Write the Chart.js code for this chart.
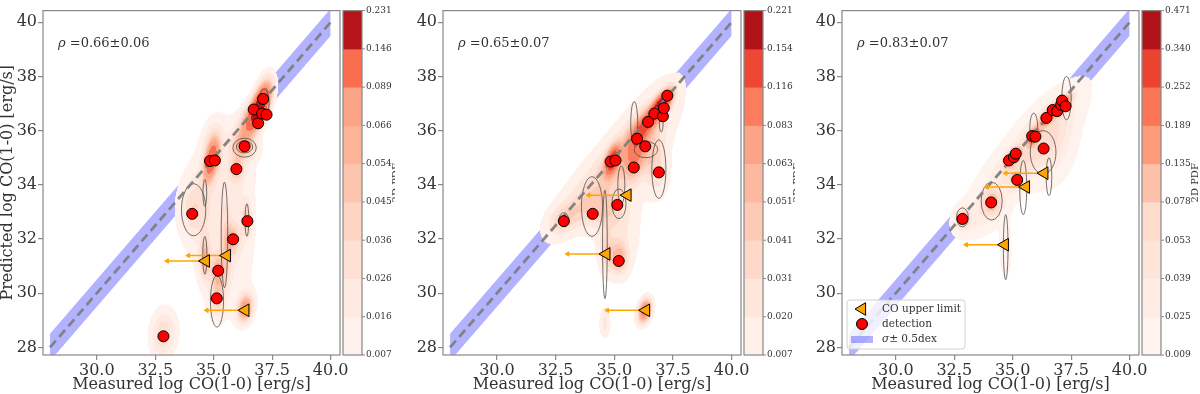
<!DOCTYPE html>
<html>
<head>
<meta charset="utf-8">
<script src="https://cdn.jsdelivr.net/npm/chart.js@4.4.1/dist/chart.umd.min.js"></script>
<style>
  body { margin: 0; background: #fff; width: 1200px; height: 394px; overflow: hidden; position: relative; }
  canvas { position: absolute; top: 0; }
</style>
</head>
<body>
<canvas id="p1" width="395" height="394" style="left:0px"></canvas>
<canvas id="p2" width="395" height="394" style="left:400px"></canvas>
<canvas id="p3" width="400" height="394" style="left:800px"></canvas>
<script>
/* ---- data ---- */
const xTicks = [30, 32.5, 35, 37.5, 40];
const yTicks = [28, 30, 32, 34, 36, 38, 40];
const oneToOne = [28, 40];          // y = x line end points
const sigmaDex = 0.5;               // band half width
const arrowLen = 1.65;              // upper-limit arrow length

// measured CO of the detections (same for every panel)
const measuredDet = [32.85, 34.08, 34.84, 35.05, 35.13, 35.19, 35.83, 35.97, 36.32, 36.44, 36.71, 36.90, 37.07, 37.11, 37.26];
const predictedDet1 = [28.41, 32.93, 34.88, 34.90, 29.81, 30.83, 31.99, 34.58, 35.42, 32.66, 36.78, 36.27, 36.63, 37.17, 36.59];
const predictedDet2 = [32.66, 32.93, 34.86, 34.90, 33.26, 31.19, 34.64, 35.70, 35.42, 36.32, 36.63, 34.46, 36.53, 36.83, 37.29];
const predictedDet3 = [32.74, 33.35, 34.90, 35.02, 35.15, 34.18, 35.80, 35.78, 35.34, 36.47, 36.76, 36.72, 36.95, 37.11, 36.90];

// upper limits
const measuredLim = [35.56, 34.66, 36.35];
const predictedLim1 = [31.39, 31.19, 29.37];
const predictedLim2 = [33.62, 31.45, 29.37];
const predictedLim3 = [33.92, 31.79, 34.43];

const rhoText = ['0.66\u00b10.06', '0.65\u00b10.07', '0.83\u00b10.07'];

// contour levels of the 2D PDF (colorbar ticks)
const levels1 = [0.007, 0.016, 0.026, 0.036, 0.045, 0.054, 0.066, 0.089, 0.146, 0.231];
const levels2 = [0.007, 0.020, 0.031, 0.041, 0.051, 0.063, 0.083, 0.116, 0.154, 0.221];
const levels3 = [0.009, 0.025, 0.039, 0.053, 0.078, 0.135, 0.189, 0.252, 0.340, 0.471];

// KDE blobs: [cx, cy, sx, sy, corr, peak]
const kde1 = [
  [36.95, 36.85, 0.30, 0.50, 0.6, 0.20],
  [36.40, 36.20, 0.30, 0.45, 0.5, 0.05],
  [37.20, 37.60, 0.25, 0.45, 0.3, 0.02],
  [34.90, 34.90, 0.22, 0.50, 0.5, 0.11],
  [34.90, 35.60, 0.25, 0.50, 0.3, 0.02],
  [36.30, 35.40, 0.35, 0.30, 0.0, 0.05],
  [36.00, 34.60, 0.20, 0.30, 0.0, 0.04],
  [36.35, 29.45, 0.22, 0.34, 0.2, 0.08],
  [32.85, 28.50, 0.38, 0.60, 0.1, 0.035],
  [34.62, 31.30, 0.15, 0.50, 0.0, 0.05],
  [35.18, 30.80, 0.20, 0.40, 0.0, 0.05],
  [35.15, 29.80, 0.20, 0.40, 0.0, 0.04],
  [35.55, 31.60, 0.15, 0.80, 0.0, 0.03],
  [36.42, 32.70, 0.15, 0.40, 0.0, 0.04],
  [35.85, 32.00, 0.20, 0.35, 0.0, 0.04],
  [34.10, 33.10, 0.40, 0.70, 0.0, 0.025],
  [35.50, 31.50, 0.90, 1.80, 0.0, 0.016],
  [35.30, 34.30, 1.00, 1.60, 0.3, 0.018]
];
const kde2 = [
  [37.00, 36.95, 0.30, 0.35, 0.7, 0.19],
  [36.30, 36.20, 0.35, 0.40, 0.7, 0.09],
  [34.92, 34.90, 0.20, 0.35, 0.5, 0.13],
  [34.60, 34.50, 1.40, 1.40, 0.85, 0.03],
  [36.20, 35.60, 1.00, 1.40, 0.7, 0.03],
  [36.30, 29.35, 0.20, 0.30, 0.3, 0.10],
  [34.60, 28.90, 0.15, 0.35, 0.0, 0.025],
  [35.20, 31.30, 0.25, 0.40, 0.0, 0.05],
  [34.65, 31.50, 0.20, 0.50, 0.0, 0.03],
  [35.20, 32.30, 0.60, 1.10, 0.0, 0.02],
  [32.80, 32.70, 0.45, 0.40, 0.3, 0.03],
  [34.30, 33.10, 0.70, 0.50, 0.0, 0.03],
  [36.80, 34.60, 0.35, 0.70, 0.0, 0.03],
  [35.90, 35.20, 0.30, 0.60, 0.3, 0.06]
];
const kde3 = [
  [36.95, 36.85, 0.30, 0.25, 0.8, 0.40],
  [36.45, 36.45, 0.15, 0.15, 0.5, 0.30],
  [35.90, 35.80, 0.15, 0.20, 0.5, 0.30],
  [35.00, 35.00, 0.20, 0.20, 0.6, 0.28],
  [35.15, 34.20, 0.15, 0.20, 0.0, 0.10],
  [34.10, 33.35, 0.25, 0.30, 0.0, 0.08],
  [32.85, 32.75, 0.20, 0.25, 0.0, 0.08],
  [35.60, 35.20, 1.50, 1.50, 0.85, 0.05],
  [36.70, 35.40, 0.70, 1.00, 0.2, 0.03],
  [33.60, 32.80, 0.70, 0.50, 0.3, 0.02],
  [34.70, 31.60, 0.18, 0.70, 0.0, 0.025]
];

// error ellipses: [cx, cy, rx, ry]
const ell1 = [
  [34.14, 33.08, 0.52, 0.96], [35.46, 32.15, 0.14, 1.95], [36.42, 32.70, 0.08, 0.60],
  [34.62, 31.40, 0.09, 0.70], [35.14, 29.70, 0.28, 0.95], [36.32, 35.37, 0.50, 0.35],
  [36.32, 35.40, 0.35, 0.22], [37.15, 37.00, 0.22, 0.55], [34.62, 33.70, 0.08, 0.50]
];
const ell2 = [
  [35.85, 36.27, 0.15, 0.80], [37.00, 36.25, 0.08, 0.30], [36.35, 35.30, 0.50, 0.30],
  [36.90, 34.58, 0.30, 1.08], [34.60, 31.80, 0.10, 2.00], [34.05, 33.20, 0.45, 1.10],
  [35.20, 33.30, 0.30, 0.55], [35.30, 34.00, 0.15, 0.70], [32.85, 32.72, 0.20, 0.25]
];
const ell3 = [
  [37.30, 37.20, 0.20, 0.80], [35.90, 36.10, 0.17, 0.55], [36.30, 35.20, 0.55, 0.80],
  [35.45, 33.90, 0.15, 1.00], [36.55, 34.30, 0.12, 0.70], [34.10, 33.40, 0.45, 0.70],
  [32.85, 32.80, 0.25, 0.35], [34.70, 31.70, 0.10, 1.20]
];

// filled-contour colours (lowest band first)
const colors1 = ['#fff2ec', '#ffeae1', '#fee1d4', '#fed4c2', '#fdc5ae', '#fcb499', '#fca486', '#f96e4f', '#b5141b'];
const colors2 = ['#fff1ea', '#fee6da', '#fed9c9', '#fdcab5', '#fcb9a0', '#fca487', '#fb7d5d', '#ee4733', '#b01218'];
const colors3 = ['#fff3ee', '#ffede5', '#fee5d9', '#fedccd', '#fdc1a8', '#fc9a7b', '#fb7656', '#ec4230', '#b01218'];

Chart.defaults.font.family = "'DejaVu Serif', serif";
Chart.defaults.color = '#333';

function hexToRgb(h) {
  return [parseInt(h.slice(1, 3), 16), parseInt(h.slice(3, 5), 16), parseInt(h.slice(5, 7), 16)];
}

function kdeValue(comps, x, y) {
  let s = 0;
  for (const c of comps) {
    const dx = (x - c[0]) / c[2], dy = (y - c[1]) / c[3], r = c[4];
    const q = (dx * dx - 2 * r * dx * dy + dy * dy) / (1 - r * r);
    s += c[5] * Math.exp(-0.5 * q);
  }
  return s;
}

function makePanel(p) {
  const panelPlugin = {
    id: 'panel' + p.id,
    beforeDatasetsDraw(chart) {
      const { ctx, chartArea: a, scales: { x, y } } = chart;
      const w = Math.round(a.right - a.left), h = Math.round(a.bottom - a.top);
      const off = document.createElement('canvas');
      off.width = w; off.height = h;
      const octx = off.getContext('2d');
      const img = octx.createImageData(w, h);
      const cols = p.colors.map(hexToRgb);
      const xs = [];
      for (let i = 0; i < w; i++) xs.push(x.getValueForPixel(a.left + i + 0.5));
      for (let j = 0; j < h; j++) {
        const yv = y.getValueForPixel(a.top + j + 0.5);
        for (let i = 0; i < w; i++) {
          const d = kdeValue(p.kde, xs[i], yv);
          if (d < p.levels[0]) continue;
          let k = 0;
          while (k < cols.length - 1 && d >= p.levels[k + 1]) k++;
          const o = (j * w + i) * 4;
          img.data[o] = cols[k][0]; img.data[o + 1] = cols[k][1]; img.data[o + 2] = cols[k][2]; img.data[o + 3] = 255;
        }
      }
      octx.putImageData(img, 0, 0);
      ctx.save();
      ctx.drawImage(off, a.left, a.top);
      // error ellipses
      ctx.beginPath();
      ctx.rect(a.left, a.top, a.right - a.left, a.bottom - a.top);
      ctx.clip();
      ctx.strokeStyle = 'rgba(70,70,70,0.75)';
      ctx.lineWidth = 1;
      for (const e of p.ell) {
        const cx = x.getPixelForValue(e[0]), cy = y.getPixelForValue(e[1]);
        const rx = Math.abs(x.getPixelForValue(e[0] + e[2]) - cx);
        const ry = Math.abs(y.getPixelForValue(e[1] + e[3]) - cy);
        ctx.beginPath();
        ctx.ellipse(cx, cy, rx, ry, 0, 0, Math.PI * 2);
        ctx.stroke();
      }
      ctx.restore();
    },
    afterDraw(chart) {
      const { ctx, chartArea: a } = chart;
      ctx.save();
      // frame
      ctx.strokeStyle = '#888';
      ctx.lineWidth = 1.2;
      ctx.strokeRect(a.left, a.top, a.right - a.left, a.bottom - a.top);
      // rho text
      ctx.fillStyle = '#333';
      ctx.textBaseline = 'middle';
      ctx.font = "italic 13px 'DejaVu Serif'";
      ctx.fillText('\u03c1', a.left + 15, a.top + 33);
      const rw = ctx.measureText('\u03c1').width;
      ctx.font = "13px 'DejaVu Serif'";
      ctx.fillText(' =' + p.rho, a.left + 15 + rw, a.top + 33);
      // colorbar
      const n = p.levels.length - 1, cbL = a.right + 3, cbW = 19, H = a.bottom - a.top;
      for (let k = 0; k < n; k++) {
        ctx.fillStyle = p.colors[k];
        ctx.fillRect(cbL, a.bottom - (k + 1) * H / n, cbW, H / n + 0.5);
      }
      ctx.strokeStyle = '#888';
      ctx.lineWidth = 1.2;
      ctx.strokeRect(cbL, a.top, cbW, H);
      ctx.fillStyle = '#333';
      ctx.font = "9px 'DejaVu Serif'";
      ctx.textAlign = 'left';
      ctx.lineWidth = 1;
      for (let k = 0; k <= n; k++) {
        const yy = a.bottom - k * H / n;
        ctx.beginPath();
        ctx.moveTo(cbL + cbW, yy); ctx.lineTo(cbL + cbW + 3, yy);
        ctx.stroke();
        ctx.fillText(p.levels[k].toFixed(3), cbL + cbW + 4, yy);
      }
      ctx.translate(cbL + cbW + 34, (a.top + a.bottom) / 2);
      ctx.rotate(-Math.PI / 2);
      ctx.textAlign = 'center';
      ctx.font = "10px 'DejaVu Serif'";
      ctx.fillText('2D PDF', 0, 0);
      ctx.restore();

      if (p.legend) {
        ctx.save();
        const lx = a.left + 5, ly = a.bottom - 55, lw = 118, lh = 49;
        ctx.fillStyle = 'rgba(255,255,255,0.8)';
        ctx.strokeStyle = '#d0d0d0';
        ctx.lineWidth = 1;
        ctx.beginPath();
        ctx.roundRect(lx, ly, lw, lh, 3);
        ctx.fill(); ctx.stroke();
        const mx = lx + 15;
        // triangle
        ctx.fillStyle = 'orange'; ctx.strokeStyle = '#000';
        ctx.beginPath();
        ctx.moveTo(mx - 7, ly + 9); ctx.lineTo(mx + 3.6, ly + 2.7); ctx.lineTo(mx + 3.6, ly + 15.3); ctx.closePath();
        ctx.fill(); ctx.stroke();
        // circle
        ctx.fillStyle = 'red';
        ctx.beginPath(); ctx.arc(mx, ly + 24, 5.5, 0, Math.PI * 2); ctx.fill(); ctx.stroke();
        // band patch
        ctx.fillStyle = 'rgba(0,0,255,0.3)';
        ctx.fillRect(mx - 11, ly + 36, 22, 7);
        ctx.fillStyle = '#333';
        ctx.textBaseline = 'middle';
        ctx.font = "10.5px 'DejaVu Serif'";
        ctx.fillText('CO upper limit', lx + 35, ly + 9);
        ctx.fillText('detection', lx + 35, ly + 24);
        ctx.font = "italic 10.5px 'DejaVu Serif'";
        ctx.fillText('\u03c3', lx + 35, ly + 39);
        const sw = ctx.measureText('\u03c3').width;
        ctx.font = "10.5px 'DejaVu Serif'";
        ctx.fillText('\u00b1 0.5dex', lx + 35 + sw, ly + 39);
        ctx.restore();
      }
    }
  };

  const datasets = [
    { data: oneToOne.map(v => ({ x: v, y: v + sigmaDex })), fill: '+1', backgroundColor: 'rgba(0,0,255,0.3)', borderWidth: 0, pointRadius: 0, order: 9 },
    { data: oneToOne.map(v => ({ x: v, y: v - sigmaDex })), fill: false, borderWidth: 0, pointRadius: 0, order: 8 },
    { data: oneToOne.map(v => ({ x: v, y: v })), fill: false, borderColor: 'rgba(128,128,128,0.95)', borderDash: [9, 5], borderWidth: 2.8, pointRadius: 0, order: 7 }
  ];
  measuredLim.forEach((mx, i) => {
    datasets.push({
      data: [{ x: mx, y: p.lim[i] }, { x: mx - arrowLen, y: p.lim[i] }],
      fill: false, borderColor: 'orange', borderWidth: 1.5,
      pointRadius: c => (c.dataIndex === 1 ? 2.5 : 0), pointStyle: 'triangle', rotation: -90,
      pointBackgroundColor: 'orange', pointBorderColor: 'orange', pointBorderWidth: 1, order: 3
    });
  });
  datasets.push({
    data: measuredLim.map((mx, i) => ({ x: mx, y: p.lim[i] })), showLine: false,
    pointStyle: 'triangle', rotation: -90, pointRadius: 7.3,
    pointBackgroundColor: 'orange', pointBorderColor: '#000', pointBorderWidth: 1, order: 2
  });
  datasets.push({
    data: measuredDet.map((mx, i) => ({ x: mx, y: p.det[i] })), showLine: false,
    pointStyle: 'circle', pointRadius: 5.5,
    pointBackgroundColor: 'red', pointBorderColor: '#000', pointBorderWidth: 1, order: 1
  });

  return new Chart(document.getElementById(p.id), {
    type: 'line',
    data: { datasets },
    plugins: [panelPlugin],
    options: {
      responsive: false,
      animation: false,
      devicePixelRatio: 1,
      events: [],
      layout: { padding: { top: 3, right: p.padRight, left: 0, bottom: 0 } },
      elements: { line: { tension: 0 } },
      plugins: {
        legend: { display: false },
        tooltip: { enabled: false },
        filler: { drawTime: 'beforeDatasetsDraw' }
      },
      scales: {
        x: {
          type: 'linear', min: 27.7, max: 40.4,
          afterBuildTicks: s => { s.ticks = xTicks.map(v => ({ value: v })); },
          afterFit: s => { s.height = 39; },
          ticks: { font: { size: 16 }, color: '#333', padding: 1, maxRotation: 0, callback: v => v.toFixed(1) },
          grid: { drawOnChartArea: false, tickLength: 5, color: '#888', lineWidth: 1.2 },
          border: { display: false },
          title: { display: true, text: 'Measured log CO(1-0) [erg/s]', font: { size: 16 }, color: '#333', padding: { top: 0, bottom: 0 } }
        },
        y: {
          type: 'linear', min: 27.72, max: 40.43,
          afterBuildTicks: s => { s.ticks = yTicks.map(v => ({ value: v })); },
          afterFit: s => { s.width = p.yWidth; },
          ticks: { font: { size: 16 }, color: '#333', padding: 1 },
          grid: { drawOnChartArea: false, tickLength: 5, color: '#888', lineWidth: 1.2 },
          border: { display: false },
          title: { display: !!p.yTitle, text: p.yTitle || '', font: { size: 16, lineHeight: 1 }, color: '#333', padding: { top: 0, bottom: 0 } }
        }
      }
    }
  });
}

makePanel({ id: 'p1', det: predictedDet1, lim: predictedLim1, levels: levels1, colors: colors1, kde: kde1, ell: ell1, rho: rhoText[0], yTitle: 'Predicted log CO(1-0) [erg/s]', yWidth: 43, padRight: 55 });
makePanel({ id: 'p2', det: predictedDet2, lim: predictedLim2, levels: levels2, colors: colors2, kde: kde2, ell: ell2, rho: rhoText[1], yWidth: 43, padRight: 54 });
makePanel({ id: 'p3', det: predictedDet3, lim: predictedLim3, levels: levels3, colors: colors3, kde: kde3, ell: ell3, rho: rhoText[2], yWidth: 42, padRight: 61, legend: true });
</script>
</body>
</html>
